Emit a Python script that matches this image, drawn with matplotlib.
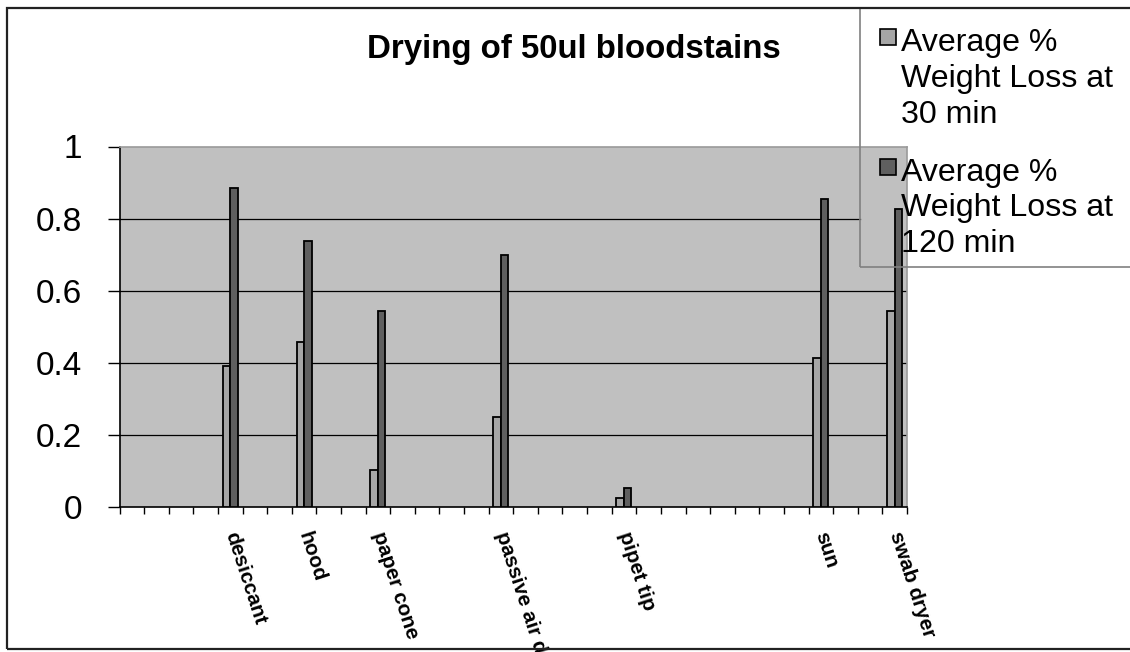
import numpy as np
import matplotlib
matplotlib.use('Agg')
import matplotlib.pyplot as plt
import matplotlib.patches as mpatches

# ------------------------------------------------------------------ #
#  Data (blank categories are empty rows on the category axis)        #
# ------------------------------------------------------------------ #

categories = ['', '', '', '', 'desiccant', '', '', 'hood', '', '',
              'paper cone', '', '', '', '', 'passive air dryer', '', '', '', '',
              'pipet tip', '', '', '', '', '', '', '', 'sun', '', '',
              'swab dryer']

loss_30 = [None, None, None, None, 0.391, None, None, 0.459, None, None,
           0.102, None, None, None, None, 0.251, None, None, None, None,
           0.024, None, None, None, None, None, None, None, 0.412, None, None,
           0.543]

loss_120 = [None, None, None, None, 0.884, None, None, 0.738, None, None,
            0.543, None, None, None, None, 0.698, None, None, None, None,
            0.053, None, None, None, None, None, None, None, 0.855, None, None,
            0.827]

series_names = ['Average %\nWeight Loss at\n30 min',
                'Average %\nWeight Loss at\n120 min']

y_ticks = [0, 0.2, 0.4, 0.6, 0.8, 1]
y_tick_labels = ['0', '0.2', '0.4', '0.6', '0.8', '1']

title = 'Drying of 50ul bloodstains'

# ------------------------------------------------------------------ #
#  Layout                                                             #
# ------------------------------------------------------------------ #

W, H = 1130, 652
LIGHT = '#A6A6A6'
DARK = '#5F5F5F'
PLOT_BG = '#C0C0C0'

plt.rcParams['font.family'] = ['Liberation Sans', 'DejaVu Sans']


def fx(px):
    return px / W


def fy(py):
    return 1 - py / H


fig = plt.figure(figsize=(W / 100, H / 100), dpi=100)
ax_left, ax_right, ax_top, ax_bottom = 119.5, 907, 146.5, 507
ax = fig.add_axes([fx(ax_left), fy(ax_bottom),
                   (ax_right - ax_left) / W, (ax_bottom - ax_top) / H])
ax.set_facecolor(PLOT_BG)

# legend box (pixels)
leg_left, leg_top, leg_bottom = 860, 8, 267

x = np.arange(len(categories))
bw = 0.305
for vals, color, off in [(loss_30, LIGHT, -bw / 2), (loss_120, DARK, bw / 2)]:
    idx = [i for i, v in enumerate(vals) if v is not None]
    ax.bar(x[idx] + off, [vals[i] for i in idx], bw, color=color,
           edgecolor='black', linewidth=1.3, zorder=3)

ax.set_xlim(-0.5, len(categories) - 0.5)
ax.set_ylim(0, 1)

# gridlines, the ones behind the legend box stop at its edge
leg_val = (ax_bottom - leg_bottom) / (ax_bottom - ax_top)
leg_xfrac = (leg_left - ax_left) / (ax_right - ax_left)
for yv in y_ticks[1:-1]:
    ax.axhline(yv, color='black', lw=0.9, zorder=1,
               xmax=leg_xfrac if yv > leg_val else 1)

for side in ['left', 'bottom']:
    ax.spines[side].set_color('black')
    ax.spines[side].set_linewidth(1.2)
for side in ['top', 'right']:
    ax.spines[side].set_color('#9a9a9a')
    ax.spines[side].set_linewidth(1.2)

ax.set_xticks(x)
ax.set_xticklabels(categories)
ax.set_xticks(np.arange(-0.5, len(categories), 1), minor=True)
ax.tick_params(axis='x', which='major', length=0, pad=18)
ax.tick_params(axis='x', which='minor', length=5, width=1, direction='out')
for lbl in ax.get_xticklabels():
    lbl.set_rotation(-72)
    lbl.set_ha('left')
    lbl.set_va('center')
    lbl.set_rotation_mode('anchor')
    lbl.set_fontweight('bold')
    lbl.set_fontsize(15)

ax.set_yticks(y_ticks)
ax.set_yticklabels(y_tick_labels)
ax.tick_params(axis='y', length=9, width=1, pad=18, labelsize=24)

# title
fig.text(fx(574), fy(58), title, ha='center', va='baseline',
         fontsize=23.8, fontweight='bold')

# legend drawn by hand (Excel style, markers at the first line)
fig.add_artist(mpatches.Rectangle((fx(leg_left), fy(leg_bottom)), 1,
                                  (leg_bottom - leg_top) / H,
                                  transform=fig.transFigure, fill=False,
                                  ec='#808080', lw=1.2))
for i, (name, color) in enumerate(zip(series_names, [LIGHT, DARK])):
    top = 29 + i * 130
    fig.add_artist(mpatches.Rectangle((fx(880), fy(top + 16)), 16 / W, 16 / H,
                                      transform=fig.transFigure,
                                      fc=color, ec='black', lw=1.2))
    # va='baseline' anchors the last line of a multi-line text
    fig.text(fx(901), fy(123 + i * 129), name, ha='left', va='baseline',
             fontsize=23.1, linespacing=1.25)

# chart area border
fig.add_artist(mpatches.Rectangle((fx(6.5), fy(648.5)), 1.5, (648.5 - 7.5) / H,
                                  transform=fig.transFigure, fill=False,
                                  ec='#222222', lw=1.6))

fig.savefig('out.png', dpi=100)
